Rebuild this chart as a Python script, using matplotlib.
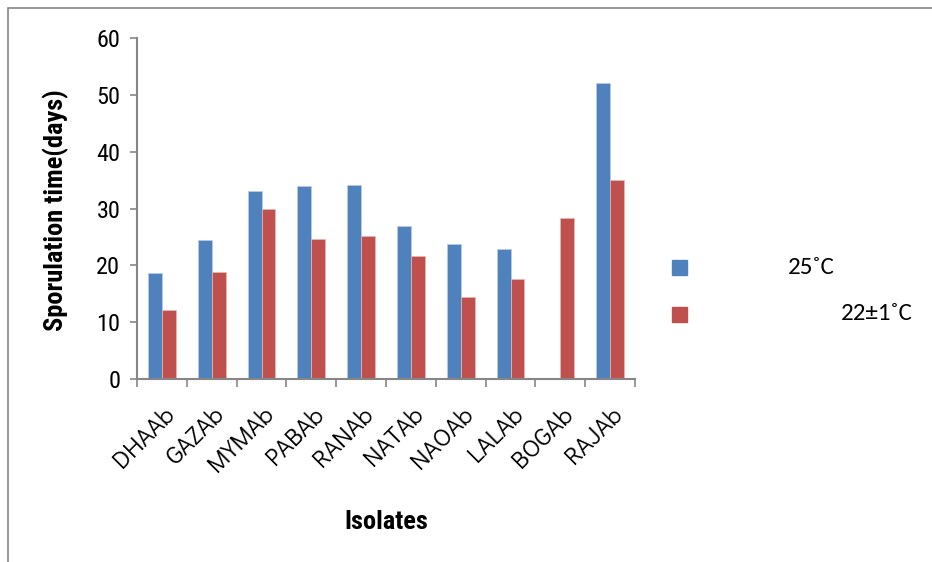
import matplotlib
matplotlib.use("Agg")
import matplotlib.pyplot as plt
import matplotlib.transforms as mtransforms
from matplotlib.patches import Rectangle
import numpy as np

# sporulation time (days) per isolate at two temperatures
isolates = ["DHAAb", "GAZAb", "MYMAb", "PABAb", "RANAb",
            "NATAb", "NAOAb", "LALAb", "BOGAb", "RAJAb"]
t25 = [18.6, 24.4, 33.0, 34.0, 34.2, 26.9, 23.8, 22.8, 0.0, 52.1]
t22 = [12.1, 18.9, 30.0, 24.7, 25.2, 21.6, 14.5, 17.6, 28.4, 35.1]
series_labels = ["25˚C", "22±1˚C"]
colors = ["#4F81BD", "#C0504D"]
edges = ["#B9CDE5", "#E6B9B8"]
yticks = [0, 10, 20, 30, 40, 50, 60]

narrow = ["Roboto Condensed", "PT Sans Narrow", "DejaVu Sans"]
gothic = ["Didact Gothic", "Questrial", "DejaVu Sans"]
grey = "#868686"

fig = plt.figure(figsize=(9.32, 5.62), dpi=100)
ax = fig.add_axes([137 / 932, 1 - 379 / 562, 498 / 932, 341 / 562])

x = np.arange(len(isolates))
w = 0.28
ax.bar(x - w / 2, t25, width=w, color=colors[0], edgecolor=edges[0], linewidth=0.5)
ax.bar(x + w / 2, t22, width=w, color=colors[1], edgecolor=edges[1], linewidth=0.5)

ax.set_xlim(-0.5, len(isolates) - 0.5)
ax.set_ylim(0, 60)
ax.set_yticks(yticks)
ax.set_yticklabels([str(v) for v in yticks], fontsize=17.5, family=narrow)
ax.tick_params(axis="y", direction="out", length=5, width=1.2, color=grey, pad=7)

# category labels at the centres, tick marks at the boundaries
ax.set_xticks(x)
ax.set_xticklabels(isolates, rotation=45, ha="right", rotation_mode="anchor",
                   fontsize=18, family=gothic)
ax.tick_params(axis="x", length=0, pad=17)
shift = mtransforms.ScaledTranslation(1 / 100, 0, fig.dpi_scale_trans)
for lab in ax.get_xticklabels():
    lab.set_transform(lab.get_transform() + shift)
ax.set_xticks(np.arange(len(isolates) + 1) - 0.5, minor=True)
ax.tick_params(axis="x", which="minor", direction="out", length=6, width=1.2, color=grey)

for side in ("top", "right"):
    ax.spines[side].set_visible(False)
for side in ("left", "bottom"):
    ax.spines[side].set_color(grey)
    ax.spines[side].set_linewidth(1.5)

fig.text(56 / 932, 1 - 210 / 562, "Sporulation time(days)", fontsize=19,
         fontweight="bold", family=narrow, rotation=90, ha="center", va="center")
fig.text(386 / 932, 1 - 522 / 562, "Isolates", fontsize=19, fontweight="bold",
         family=narrow, ha="center", va="center")

# legend: coloured squares with their labels
sq = 15
for (ypx, xt), lab, c in zip([(267, 811), (314, 877)], series_labels, colors):
    fig.patches.append(Rectangle((672 / 932, 1 - (ypx + sq / 2) / 562), sq / 932, sq / 562,
                                 transform=fig.transFigure, color=c))
    fig.text(xt / 932, 1 - ypx / 562, lab, fontsize=18, family="Carlito",
             ha="center", va="center")

# outer chart frame
fig.patches.append(Rectangle((8 / 932, -0.05), 1.1, 1 - 8 / 562 + 0.05,
                             transform=fig.transFigure, fill=False,
                             edgecolor=grey, linewidth=1.2))

fig.savefig("out.png", dpi=100)
